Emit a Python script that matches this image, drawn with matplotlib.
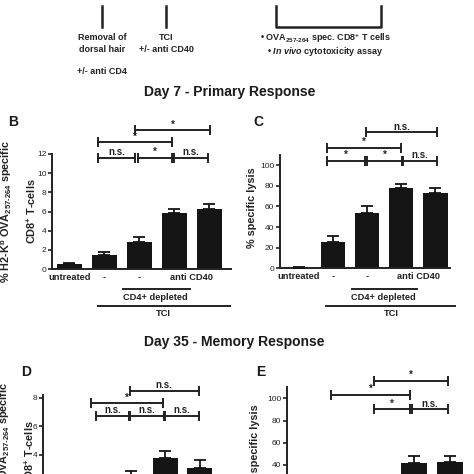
import matplotlib
matplotlib.use("Agg")
import matplotlib.pyplot as plt
from matplotlib.transforms import blended_transform_factory

plt.rcParams["font.family"] = ["Liberation Sans", "DejaVu Sans"]
plt.rcParams["mathtext.fontset"] = "custom"
plt.rcParams["mathtext.rm"] = "Liberation Sans:bold"
plt.rcParams["mathtext.bf"] = "Liberation Sans:bold"
plt.rcParams["mathtext.it"] = "Liberation Sans:italic:bold"

# ---- data ----
group_labels = ["untreated", "-", "-", "anti CD40"]
group_label_pos = [0, 1, 2, 3.5]

tet_d7 = [0.5, 1.45, 2.85, 5.8, 6.25]
tet_d7_err = [0.15, 0.35, 0.5, 0.5, 0.5]
lysis_d7 = [0.5, 26, 53.5, 78, 73.5]
lysis_d7_err = [0.3, 5.5, 7.3, 3.6, 4.8]
# day 35: lower part of the panels is cropped in the source
tet_d35 = [0.3, 1.0, 2.5, 3.8, 3.1]
tet_d35_err = [0.1, 0.3, 0.4, 0.45, 0.55]
lysis_d35 = [0.5, 5, 15, 41.5, 43]
lysis_d35_err = [0.5, 3, 6, 6.5, 5]

# significance brackets (x from, x to, y, label)
sig_b = [(0.82, 1.89, 11.6, "n.s."), (1.96, 2.93, 11.6, "*"), (3.0, 3.95, 11.6, "n.s."),
         (0.82, 2.93, 13.2, "*"), (1.89, 4.03, 14.5, "*")]
sig_c = [(0.84, 1.94, 104.5, "*"), (1.99, 3.03, 104.5, "*"), (3.06, 4.04, 104.5, "n.s."),
         (0.84, 2.99, 117, "*"), (1.97, 4.04, 132, "n.s.")]
sig_d = [(0.97, 1.92, 6.76, "n.s."), (1.97, 2.95, 6.76, "n.s."), (3.0, 3.98, 6.76, "n.s."),
         (0.82, 2.94, 7.63, "*"), (1.95, 3.97, 8.49, "n.s.")]
sig_e = [(1.9, 2.9, 90, "*"), (2.96, 3.94, 90, "n.s."),
         (0.7, 2.9, 103, "*"), (1.9, 3.94, 115.8, "*")]

W = H = 474.0
fig = plt.figure(figsize=(4.74, 4.74), dpi=100)
fig.patch.set_facecolor("white")


def fx(x):
    return x / W


def fy(y):
    return 1 - y / H


def make_ax(left, right, top, bottom):
    return fig.add_axes([fx(left), fy(bottom), (right - left) / W, (bottom - top) / H])


def panel(ax, vals, errs, xlim, ylim, yticks, sig, show_x=True):
    x = list(range(len(vals)))
    ax.bar(x, vals, width=0.72, color="#151515", zorder=2)
    ax.errorbar(x, vals, yerr=[[0] * len(errs), errs], fmt="none", ecolor="#151515",
                elinewidth=1.3, capsize=4.5, capthick=1.3, zorder=3)
    ax.set_xlim(*xlim)
    ax.set_ylim(*ylim)
    ax.set_yticks(yticks)
    for s in ("top", "right"):
        ax.spines[s].set_visible(False)
    for s in ("left", "bottom"):
        ax.spines[s].set_linewidth(1.4)
        ax.spines[s].set_color("#222222")
    ax.tick_params(axis="y", length=3, width=1.2, pad=1, labelsize=6, colors="#222222")
    if show_x:
        ax.set_xticks(group_label_pos)
        ax.set_xticklabels(group_labels, fontsize=6.7, fontweight="bold")
        ax.tick_params(axis="x", length=0, pad=3, colors="#222222")
    else:
        ax.set_xticks([])
    for x0, x1, y, lab in sig:
        ax.plot([x0, x1], [y, y], color="#222222", lw=1.4, clip_on=False)
        ax.plot([x0, x1], [y, y], ls="none", marker="|", ms=6.5, mew=1.4,
                color="#222222", clip_on=False)
        ax.annotate(lab, xy=((x0 + x1) / 2, y), xytext=(0, 0.5), textcoords="offset points",
                    ha="center", va="bottom", fontsize=7,
                    fontweight="bold", color="#222222", annotation_clip=False)


def group_lines(ax):
    tr = blended_transform_factory(ax.transData, fig.transFigure)
    ax.plot([1.55, 3.46], [fy(288.5), fy(288.5)], color="#222222", lw=1.4,
            transform=tr, clip_on=False)
    ax.text(2.47, fy(298), "CD4+ depleted", transform=tr, ha="center", va="center",
            fontsize=6.7, fontweight="bold", color="#222222")
    ax.plot([0.81, 4.58], [fy(306), fy(306)], color="#222222", lw=1.4,
            transform=tr, clip_on=False)
    ax.text(2.7, fy(313.5), "TCI", transform=tr, ha="center", va="center",
            fontsize=6.7, fontweight="bold", color="#222222")


# ---- timeline on top ----
tl = dict(color="#222222", lw=1.8)
fig.add_artist(plt.Line2D([fx(102), fx(102)], [fy(6), fy(27)], **tl))
fig.add_artist(plt.Line2D([fx(166), fx(166)], [fy(6), fy(27)], **tl))
fig.add_artist(plt.Line2D([fx(276), fx(276), fx(381), fx(381)],
                          [fy(6), fy(27), fy(27), fy(6)], **tl))
tk = dict(ha="center", va="center", fontsize=6.5, fontweight="bold", color="#222222")
fig.text(fx(102), fy(38), "Removal of", **tk)
fig.text(fx(102), fy(49), "dorsal hair", **tk)
fig.text(fx(102), fy(71), "+/- anti CD4", **tk)
fig.text(fx(166), fy(38), "TCI", **tk)
fig.text(fx(166), fy(49), "+/- anti CD40", **tk)
fig.text(fx(325), fy(38), r"• OVA$_{257\text{-}264}$ spec. CD8$^{+}$ T cells", **tk)
fig.text(fx(325), fy(51), r"• $\mathit{In\ vivo}$ cytotoxicity assay", **tk)

# ---- section titles and panel letters ----
ttl = dict(ha="center", va="center", fontsize=10, fontweight="bold", color="#1a1a1a")
fig.text(fx(230), fy(92), "Day 7 - Primary Response", **ttl)
fig.text(fx(234), fy(342), "Day 35 - Memory Response", **ttl)
pl = dict(ha="center", va="center", fontsize=10, fontweight="bold", color="#1a1a1a")
fig.text(fx(13), fy(122), "B", **pl)
fig.text(fx(258), fy(122), "C", **pl)
fig.text(fx(26), fy(372), "D", **pl)
fig.text(fx(261), fy(372), "E", **pl)

tet_label = "% H2-K$^{\\mathrm{b}}$ OVA$_{257\\text{-}264}$ specific\nCD8$^{+}$ T-cells"
yl = dict(rotation=90, ha="center", va="center", fontsize=7.8, fontweight="bold",
          color="#222222", linespacing=1.9)

# ---- panel B ----
axB = make_ax(52, 231, 154, 269)
panel(axB, tet_d7, tet_d7_err, (-0.49, 4.62), (0, 12), range(0, 13, 2), sig_b)
group_lines(axB)
fig.text(fx(18), fy(211), tet_label, **yl)

# ---- panel C ----
axC = make_ax(280, 450, 155, 268.3)
panel(axC, lysis_d7, lysis_d7_err, (-0.55, 4.43), (0, 110), range(0, 101, 20), sig_c)
group_lines(axC)
fig.text(fx(252), fy(208), "% specific lysis", **yl)

# ---- panel D ----
axD = make_ax(43, 217, 395, 512)
panel(axD, tet_d35, tet_d35_err, (-0.59, 4.51), (0, 8.2), range(0, 9, 2), sig_d, show_x=False)
fig.text(fx(16), fy(453), tet_label, **yl)

# ---- panel E ----
axE = make_ax(287, 466, 387.2, 509.4)
panel(axE, lysis_d35, lysis_d35_err, (-0.53, 4.45), (0, 110), range(0, 101, 20), sig_e, show_x=False)
fig.text(fx(255), fy(445), "% specific lysis", **yl)

fig.savefig("out.png", dpi=100)
